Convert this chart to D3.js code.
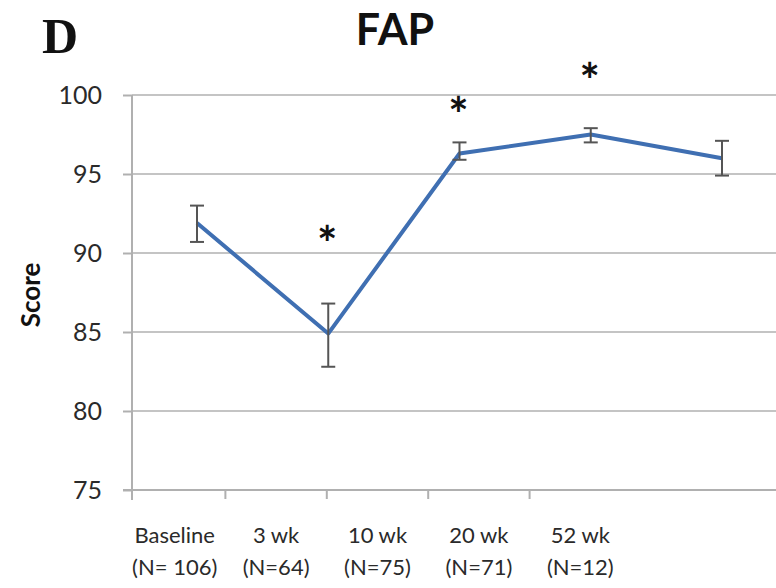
<!DOCTYPE html>
<html><head><meta charset="utf-8">
<script src="https://cdn.jsdelivr.net/npm/d3@7"></script>
<style>body{margin:0;background:#fff}svg{display:block}</style>
</head><body>
<svg id="c" width="776" height="588"></svg>
<script>
const categories = ["Baseline", "3 wk", "10 wk", "20 wk", "52 wk"];
const sampleSizes = ["(N= 106)", "(N=64)", "(N=75)", "(N=71)", "(N=12)"];
const means = [91.9, 84.9, 96.3, 97.5, 96.0];
const errUpper = [93.0, 86.8, 97.0, 97.9, 97.1];
const errLower = [90.7, 82.8, 95.9, 97.0, 94.9];
const starLevel = [null, 91.0, 99.2, 101.3, null];
const yTicks = [75, 80, 85, 90, 95, 100];

const svg = d3.select("#c");
const F = "Lato, 'Open Sans', sans-serif";

const y = d3.scaleLinear().domain([75, 100]).range([490, 95]);
const xBand = d3.scaleBand().domain(categories).range([124, 631]);
const xPt = d3.scalePoint().domain(categories).range([197, 722]);

// gridlines
svg.append("g").selectAll("line").data(yTicks.filter(d => d > 75)).join("line")
  .attr("x1", 132).attr("x2", 776)
  .attr("y1", d => y(d)).attr("y2", d => y(d))
  .attr("stroke", "#c4c4c4").attr("stroke-width", 2);

// y axis
const yAxis = svg.append("g").attr("transform", "translate(132,0)")
  .call(d3.axisLeft(y).tickValues(yTicks).tickSize(9).tickPadding(21));
yAxis.select(".domain").attr("stroke", "#b0b0b0").attr("stroke-width", 2).attr("d", `M0,${y(100)}V${y(75)+10}`);
yAxis.selectAll(".tick line").attr("stroke", "#b0b0b0").attr("stroke-width", 2);
yAxis.selectAll(".tick text").attr("font-family", F).attr("font-size", 25).attr("fill", "#2a2a2a");

// x axis line
svg.append("line").attr("x1", 123).attr("x2", 776).attr("y1", y(75)).attr("y2", y(75))
  .attr("stroke", "#b0b0b0").attr("stroke-width", 2);
// x ticks at band boundaries
svg.append("g").selectAll("line").data(categories.slice(1)).join("line")
  .attr("x1", d => xBand(d)).attr("x2", d => xBand(d))
  .attr("y1", y(75)).attr("y2", y(75) + 9)
  .attr("stroke", "#b0b0b0").attr("stroke-width", 2);

// x labels
const lab = svg.append("g").selectAll("g").data(categories).join("g")
  .attr("transform", d => `translate(${xBand(d) + xBand.bandwidth()/2},0)`);
lab.append("text").attr("y", 543).attr("text-anchor", "middle")
  .attr("font-family", F).attr("font-size", 22).attr("fill", "#2a2a2a").text(d => d);
lab.append("text").attr("y", 575).attr("text-anchor", "middle")
  .attr("font-family", F).attr("font-size", 22).attr("fill", "#2a2a2a")
  .text((d, i) => sampleSizes[i]);

// line
const pts = categories.map((c, i) => ({c, v: means[i], hi: errUpper[i], lo: errLower[i], s: starLevel[i]}));
svg.append("path").datum(pts)
  .attr("d", d3.line().x(d => xPt(d.c)).y(d => y(d.v)))
  .attr("fill", "none").attr("stroke", "#3f6fb2").attr("stroke-width", 4)
  .attr("stroke-linejoin", "round");

// error bars
const eb = svg.append("g").attr("stroke", "#555").attr("stroke-width", 2);
eb.selectAll(".v").data(pts).join("line")
  .attr("x1", d => xPt(d.c)).attr("x2", d => xPt(d.c))
  .attr("y1", d => y(d.hi)).attr("y2", d => y(d.lo));
eb.selectAll(".t").data(pts).join("line")
  .attr("x1", d => xPt(d.c) - 7).attr("x2", d => xPt(d.c) + 7)
  .attr("y1", d => y(d.hi)).attr("y2", d => y(d.hi));
eb.selectAll(".b").data(pts).join("line")
  .attr("x1", d => xPt(d.c) - 7).attr("x2", d => xPt(d.c) + 7)
  .attr("y1", d => y(d.lo)).attr("y2", d => y(d.lo));

// stars
svg.append("g").selectAll("text").data(pts.filter(d => d.s !== null)).join("text")
  .attr("x", d => xPt(d.c) - 1).attr("y", d => y(d.s) + 24)
  .attr("text-anchor", "middle").attr("font-family", F).attr("font-weight", "bold")
  .attr("font-size", 48).attr("fill", "#111").text("*");

// title
svg.append("text").attr("x", 395).attr("y", 45).attr("text-anchor", "middle")
  .attr("font-family", F).attr("font-weight", "bold").attr("font-size", 43)
  .attr("fill", "#111").text("FAP");
svg.append("text").attr("x", 42).attr("y", 53)
  .attr("font-family", "'Liberation Serif', 'DejaVu Serif', serif").attr("font-weight", "bold")
  .attr("font-size", 50).attr("fill", "#111").text("D");

// y label
svg.append("text").attr("transform", "translate(40,295) rotate(-90)")
  .attr("text-anchor", "middle").attr("font-family", F).attr("font-weight", "bold")
  .attr("font-size", 26).attr("fill", "#111").text("Score");
</script>
</body></html>
